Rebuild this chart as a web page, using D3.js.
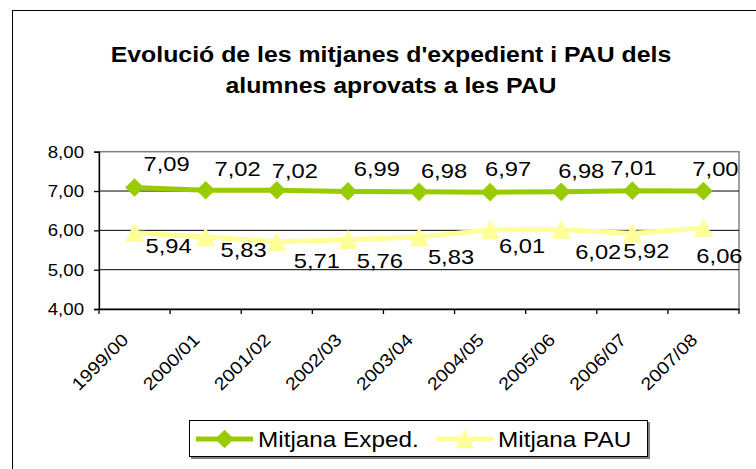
<!DOCTYPE html>
<html>
<head>
<meta charset="utf-8">
<script src="https://cdn.jsdelivr.net/npm/d3@7"></script>
<style>
  body { margin: 0; background: #fff; }
  text { font-family: Arial, 'Liberation Sans', sans-serif; fill: #000; }
</style>
</head>
<body>
<div id="chart-area"></div>
<script>
// data
let years = ['1999/00', '2000/01', '2001/02', '2002/03', '2003/04', '2004/05', '2005/06', '2006/07', '2007/08'];
let mitjanaExped = [7.09, 7.02, 7.02, 6.99, 6.98, 6.97, 6.98, 7.01, 7.0];
let mitjanaPau = [5.94, 5.83, 5.71, 5.76, 5.83, 6.01, 6.02, 5.92, 6.06];
let yTicks = [4, 5, 6, 7, 8];
let seriesNames = ['Mitjana Exped.', 'Mitjana PAU'];

// label nudges (px) the way the labels sit in the original
let expedLabelShift = [[32, -16], [32, -14], [18, -12], [29, -15], [25, -14], [18, -16], [20, -14], [1, -16], [12, -15]];
let pauLabelShift = [[34, 20], [38, 20], [40, 26], [32, 28], [32, 27], [32, 23], [37, 29], [14, 25], [16, 35]];

let width = 756;
let height = 469;
let plot = { left: 99, right: 739, top: 151.7, bottom: 309 };
let green = '#99cc00';
let yellow = '#ffff99';
let stretch = 1.13; // text in the original is a bit wider than Arial

let fmt = (d) => d.toFixed(2).replace('.', ',');

let svg = d3
  .select('#chart-area')
  .append('svg')
  .attr('width', width)
  .attr('height', height);

// outer chart border (goes past the right and bottom edge)
svg
  .append('rect')
  .attr('x', 12.5)
  .attr('y', 10.5)
  .attr('width', 900)
  .attr('height', 600)
  .style('fill', '#fff')
  .style('stroke', '#000');

// helper for stretched text
function putText(g, x, y, str, size, anchor, extra) {
  return g
    .append('text')
    .attr('transform', `translate(${x},${y}) ${extra || ''} scale(${stretch},1)`)
    .style('font-size', size + 'px')
    .style('text-anchor', anchor)
    .text(str);
}

// title
let title = svg.append('g').attr('id', 'title');
putText(title, 391, 61.5, "Evolució de les mitjanes d'expedient i PAU dels", 22, 'middle').style('font-weight', 'bold');
putText(title, 391, 93, 'alumnes aprovats a les PAU', 22, 'middle').style('font-weight', 'bold');

let xScale = d3.scaleBand().domain(years).range([plot.left, plot.right]);
let yScale = d3.scaleLinear().domain([4, 8]).range([plot.bottom, plot.top]);
let cx = (d) => xScale(d) + xScale.bandwidth() / 2;

// plot area frame
svg
  .append('rect')
  .attr('x', plot.left)
  .attr('y', yScale(8))
  .attr('width', plot.right - plot.left)
  .attr('height', yScale(4) - yScale(8))
  .style('fill', '#fff')
  .style('stroke', '#808080')
  .style('stroke-width', 1.5);

// gridlines
svg
  .append('g')
  .selectAll('line')
  .data(yTicks.filter((t) => t > 4 && t < 8))
  .enter()
  .append('line')
  .attr('x1', plot.left)
  .attr('x2', plot.right)
  .attr('y1', (d) => yScale(d))
  .attr('y2', (d) => yScale(d))
  .style('stroke', '#000')
  .style('stroke-width', 1);

// y axis
let yAxis = d3.axisLeft(yScale).tickValues(yTicks).tickSize(5).tickFormat('');
svg
  .append('g')
  .attr('transform', `translate(${plot.left},0)`)
  .call(yAxis)
  .call((g) => g.selectAll('path, line').style('stroke', '#000').style('stroke-width', 1.3));
let yLabels = svg.append('g');
yTicks.forEach((t) => putText(yLabels, 84, yScale(t) + 6, fmt(t), 16.5, 'end'));

// x axis
let xAxis = d3.axisBottom(xScale).tickSize(0).tickFormat('');
let xg = svg
  .append('g')
  .attr('transform', `translate(0,${plot.bottom})`)
  .call(xAxis);
xg.select('.domain').style('stroke', '#000').style('stroke-width', 1.3);
xg.selectAll('.tick').remove();
xg
  .selectAll('line.cat')
  .data(years.concat(['end']))
  .enter()
  .append('line')
  .attr('class', 'cat')
  .attr('x1', (d, i) => (i < years.length ? xScale(d) : plot.right))
  .attr('x2', (d, i) => (i < years.length ? xScale(d) : plot.right))
  .attr('y1', 0)
  .attr('y2', 5)
  .style('stroke', '#000')
  .style('stroke-width', 1.3);
let xLabels = svg.append('g');
years.forEach((y) => putText(xLabels, cx(y) - 5, 341, y, 17.5, 'end', 'rotate(-45)'));

// lines
let line = (values) =>
  d3
    .line()
    .x((d, i) => cx(years[i]))
    .y((d) => yScale(d))(values);

let diamond = d3.symbol(d3.symbolSquare, 175)();
let triangle = 'M0,-10L9.5,9.3L-9.5,9.3Z';

svg
  .append('path')
  .attr('d', line(mitjanaPau))
  .style('fill', 'none')
  .style('stroke', yellow)
  .style('stroke-width', 5);
svg
  .append('g')
  .selectAll('path')
  .data(mitjanaPau)
  .enter()
  .append('path')
  .attr('d', triangle)
  .attr('transform', (d, i) => `translate(${cx(years[i])},${yScale(d)})`)
  .style('fill', yellow);

svg
  .append('path')
  .attr('d', line(mitjanaExped))
  .style('fill', 'none')
  .style('stroke', green)
  .style('stroke-width', 5);
svg
  .append('g')
  .selectAll('path')
  .data(mitjanaExped)
  .enter()
  .append('path')
  .attr('d', diamond)
  .attr('transform', (d, i) => `translate(${cx(years[i])},${yScale(d)}) rotate(45)`)
  .style('fill', green);

// data labels
let labels = svg.append('g');
mitjanaExped.forEach((v, i) =>
  putText(labels, cx(years[i]) + expedLabelShift[i][0], yScale(v) + expedLabelShift[i][1], fmt(v), 21, 'middle'),
);
mitjanaPau.forEach((v, i) =>
  putText(labels, cx(years[i]) + pauLabelShift[i][0], yScale(v) + pauLabelShift[i][1], fmt(v), 21, 'middle'),
);

// legend
let legend = svg.append('g').attr('id', 'legend');
legend
  .append('rect')
  .attr('x', 191)
  .attr('y', 422)
  .attr('width', 459)
  .attr('height', 37)
  .style('fill', '#808080');
legend
  .append('rect')
  .attr('x', 189.5)
  .attr('y', 420.5)
  .attr('width', 458)
  .attr('height', 36)
  .style('fill', '#fff')
  .style('stroke', '#000');
let legendItems = [
  { name: seriesNames[0], color: green, x1: 196, x2: 253, text: 258, shape: diamond, rot: 'rotate(45)' },
  { name: seriesNames[1], color: yellow, x1: 436, x2: 493, text: 498, shape: triangle, rot: '' },
];
legendItems.forEach((it) => {
  legend
    .append('line')
    .attr('x1', it.x1)
    .attr('x2', it.x2)
    .attr('y1', 439)
    .attr('y2', 439)
    .style('stroke', it.color)
    .style('stroke-width', 5);
  legend
    .append('path')
    .attr('d', it.shape)
    .attr('transform', `translate(${(it.x1 + it.x2) / 2},439) ${it.rot}`)
    .style('fill', it.color);
  putText(legend, it.text, 446.5, it.name, 21.5, 'start');
});
</script>
</body>
</html>
